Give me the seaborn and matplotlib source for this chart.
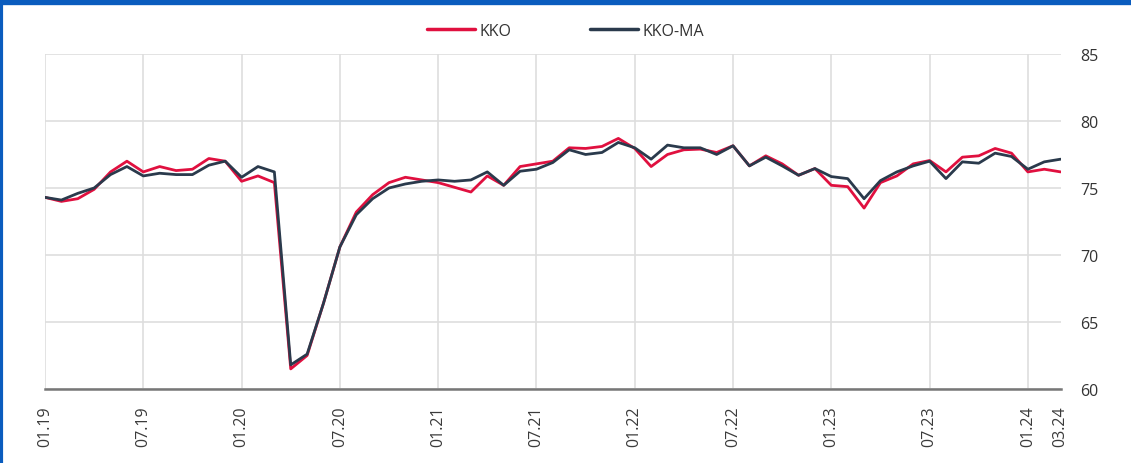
import matplotlib
matplotlib.use("Agg")
import matplotlib.pyplot as plt
import seaborn as sns
import pandas as pd
from matplotlib.lines import Line2D

# monthly values 01.19 .. 03.24
months = pd.period_range("2019-01", "2024-03", freq="M")

kko = [74.3, 74.0, 74.2, 74.9, 76.2, 77.0, 76.2, 76.6, 76.3, 76.4, 77.2, 77.0,
       75.5, 75.9, 75.4, 61.5, 62.5, 66.4, 70.6, 73.2, 74.5, 75.4, 75.8, 75.6,
       75.4, 75.05, 74.7, 75.9, 75.2, 76.6, 76.8, 77.0, 78.0, 77.95, 78.1, 78.7,
       77.95, 76.6, 77.5, 77.85, 77.9, 77.65, 78.15, 76.65, 77.4, 76.8, 75.95, 76.45,
       75.2, 75.1, 73.5, 75.4, 75.9, 76.8, 77.05, 76.2, 77.3, 77.4, 77.95, 77.6,
       76.2, 76.4, 76.2]

kko_ma = [74.3, 74.1, 74.6, 75.0, 76.0, 76.6, 75.9, 76.1, 76.0, 76.0, 76.7, 77.0,
          75.8, 76.6, 76.2, 61.8, 62.6, 66.4, 70.6, 73.0, 74.2, 75.0, 75.3, 75.5,
          75.6, 75.5, 75.6, 76.2, 75.2, 76.25, 76.4, 76.9, 77.85, 77.5, 77.65, 78.4,
          78.0, 77.15, 78.2, 78.0, 78.0, 77.5, 78.15, 76.65, 77.3, 76.65, 75.95, 76.45,
          75.85, 75.7, 74.2, 75.55, 76.2, 76.65, 77.0, 75.7, 76.95, 76.85, 77.6, 77.35,
          76.4, 76.95, 77.15]

tick_pos = [0, 6, 12, 18, 24, 30, 36, 42, 48, 54, 60]
tick_labels = [months[i].strftime("%m.%y") for i in tick_pos]
last_label = months[-1].strftime("%m.%y")

df = pd.DataFrame({
    "idx": list(range(len(months))) * 2,
    "value": kko + kko_ma,
    "series": ["KKO"] * len(kko) + ["KKO-MA"] * len(kko_ma),
})

sns.set_style("white")
plt.rcParams["font.family"] = ["Open Sans", "DejaVu Sans"]

palette = {"KKO": "#e0103f", "KKO-MA": "#2a3a4c"}

fig = plt.figure(figsize=(11.31, 4.64), dpi=100)
ax = fig.add_axes([0.0398, 0.1595, 0.898, 0.722])

sns.lineplot(data=df, x="idx", y="value", hue="series", palette=palette,
             linewidth=2.0, ax=ax, legend=False)

ax.set_xlim(0, 62)
ax.set_ylim(60, 85)
ax.set_yticks([60, 65, 70, 75, 80, 85])
ax.yaxis.tick_right()
ax.tick_params(axis="y", length=0, pad=14, labelsize=11.5, labelcolor="#333333")

ax.set_xticks(tick_pos)
ax.set_xticklabels(tick_labels, rotation=90)
ax.set_xticks([62], minor=True)
ax.set_xticklabels([last_label], minor=True, rotation=90)
ax.tick_params(axis="x", which="both", length=6, width=1.3, color="#666666",
               labelsize=11.5, labelcolor="#3a3a3a", pad=6)

ax.grid(True, which="major", color="#dedede", linewidth=1.2)
ax.set_axisbelow(True)
ax.set_xlabel("")
ax.set_ylabel("")
for side in ["top", "left", "right"]:
    ax.spines[side].set_visible(False)
ax.spines["bottom"].set_color("#777777")
ax.spines["bottom"].set_linewidth(1.8)

handles = [Line2D([0], [0], color=palette[k], linewidth=2.5) for k in palette]
fig.legend(handles, list(palette), loc="center", bbox_to_anchor=(0.5, 0.931),
           ncol=2, frameon=False, fontsize=11.5, handlelength=3.0,
           handletextpad=0.3, columnspacing=4.9, labelcolor="#333333")

# blue frame around the box (top and left edges)
fig.add_artist(Line2D([0, 1], [0.996, 0.996], transform=fig.transFigure,
                      color="#0a5cbe", linewidth=6))
fig.add_artist(Line2D([0.001, 0.001], [0, 1], transform=fig.transFigure,
                      color="#0a5cbe", linewidth=3))

fig.savefig("out.png", dpi=100)
